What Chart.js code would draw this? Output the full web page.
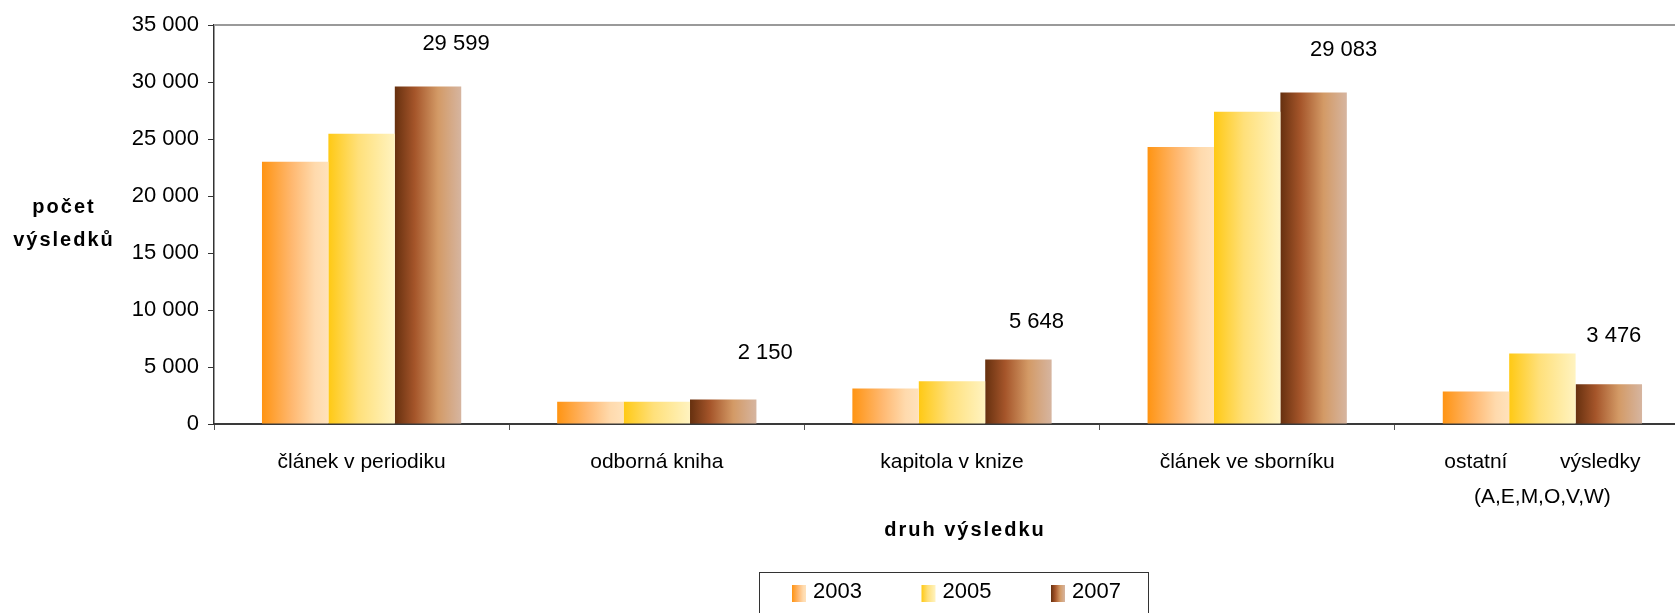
<!DOCTYPE html>
<html lang="cs">
<head>
<meta charset="utf-8">
<title>Počet výsledků podle druhu</title>
<script src="https://cdn.jsdelivr.net/npm/chart.js@4.4.1/dist/chart.umd.min.js"></script>
<style>
    html, body { margin: 0; padding: 0; background: #fff; overflow: hidden; }
    #wrap { width: 1690px; height: 613px; }
</style>
</head>
<body>
<div id="wrap"><canvas id="chart" width="1690" height="613"></canvas></div>
<script>
// Data
const categories = [
    'článek v periodiku',
    'odborná kniha',
    'kapitola v knize',
    'článek ve sborníku',
    ['ostatní         výsledky', '(A,E,M,O,V,W)']
];
const years = ['2003', '2005', '2007'];
const values2003 = [23000, 1950, 3110, 24300, 2860];
const values2005 = [25450, 1950, 3740, 27400, 6190];
const values2007 = [29599, 2150, 5648, 29083, 3476];
const yTicks = { min: 0, max: 35000, step: 5000 };

// Gradient stops per series (left -> right across each bar)
const seriesStops = [
    [[0, '#FF9412'], [0.45, '#FFB870'], [0.8, '#FFDAAD'], [1, '#FFE2BC']],
    [[0, '#FFC914'], [0.45, '#FFE07A'], [1, '#FFF3C0']],
    [[0, '#66300F'], [0.3, '#A5552A'], [0.65, '#D39A66'], [1, '#D6B5A0']]
];

const CAT_PCT = 0.675;
const FONT = '"Liberation Sans", Arial, sans-serif';

// Thousands with a space, like "29 599"
function fmt(n) {
    return String(n).replace(/\B(?=(\d{3})+(?!\d))/g, ' ');
}

function makeGradient(ctx2d, left, width, stops) {
    const g = ctx2d.createLinearGradient(left, 0, left + width, 0);
    stops.forEach(s => g.addColorStop(s[0], s[1]));
    return g;
}

// Scriptable fill: horizontal gradient across each bar
function barFill(seriesIndex) {
    return function (context) {
        const chart = context.chart;
        const x = chart.scales && chart.scales.x;
        const stops = seriesStops[seriesIndex];
        if (!x || context.dataIndex === undefined || !(x.width > 0)) return stops[0][1];
        const catW = x.width / categories.length;
        const groupW = catW * CAT_PCT;
        const barW = groupW / years.length;
        const center = x.getPixelForValue(context.dataIndex);
        const left = center - groupW / 2 + seriesIndex * barW;
        if (!isFinite(left) || !isFinite(barW)) return stops[0][1];
        return makeGradient(chart.ctx, left, barW, stops);
    };
}

// Value labels above the 2007 bars (nudged like in the original)
const labelNudge = [[28, -43], [42, -47], [18, -38], [30, -43], [5, -48]];

const decorPlugin = {
    id: 'decor',
    afterDatasetsDraw(chart) {
        const ctx = chart.ctx;
        const meta = chart.getDatasetMeta(2);
        ctx.save();
        ctx.font = '22px ' + FONT;
        ctx.fillStyle = '#000';
        ctx.textAlign = 'center';
        ctx.textBaseline = 'middle';
        meta.data.forEach((el, i) => {
            const n = labelNudge[i];
            ctx.fillText(fmt(values2007[i]), el.x + n[0], el.y + n[1]);
        });
        ctx.restore();
    },
    afterDraw(chart) {
        const ctx = chart.ctx;
        const area = chart.chartArea;
        ctx.save();

        // plot area top border
        ctx.strokeStyle = '#9a9a9a';
        ctx.lineWidth = 2;
        ctx.beginPath();
        ctx.moveTo(area.left, area.top);
        ctx.lineTo(area.right, area.top);
        ctx.stroke();

        // axis titles
        ctx.fillStyle = '#000';
        ctx.font = 'bold 20px ' + FONT;
        ctx.letterSpacing = '2px';
        ctx.textAlign = 'center';
        ctx.textBaseline = 'alphabetic';
        ctx.fillText('počet', 64, 213);
        ctx.fillText('výsledků', 64, 246);
        ctx.fillText('druh výsledku', 965, 536);
        ctx.letterSpacing = '0px';

        // legend
        ctx.strokeStyle = '#333';
        ctx.lineWidth = 1;
        ctx.strokeRect(759.5, 572.5, 389, 60);
        ctx.font = '22px ' + FONT;
        ctx.textAlign = 'left';
        ctx.textBaseline = 'middle';
        years.forEach((yr, i) => {
            const sx = 792 + i * 129.5;
            ctx.fillStyle = makeGradient(ctx, sx, 14, seriesStops[i]);
            ctx.fillRect(sx, 585, 14, 17);
            ctx.fillStyle = '#000';
            ctx.fillText(yr, sx + 21, 592);
        });
        ctx.restore();
    }
};

const seriesValues = [values2003, values2005, values2007];

new Chart(document.getElementById('chart'), {
    type: 'bar',
    data: {
        labels: categories,
        datasets: years.map((yr, i) => ({
            label: yr,
            data: seriesValues[i],
            backgroundColor: barFill(i),
            borderWidth: 0,
            categoryPercentage: CAT_PCT,
            barPercentage: 1
        }))
    },
    options: {
        responsive: false,
        animation: false,
        events: [],
        layout: { padding: { top: 25, right: 0, bottom: 0, left: 0 } },
        plugins: {
            legend: { display: false },
            tooltip: { enabled: false }
        },
        scales: {
            x: {
                afterFit(scale) { scale.height = 189; },
                border: { display: true, color: '#3a3a3a', width: 2 },
                grid: { display: true, drawOnChartArea: false, drawTicks: true, tickLength: 6, color: '#555', offset: true },
                ticks: {
                    color: '#000',
                    font: { family: FONT, size: 21, lineHeight: 1.7 },
                    padding: 14,
                    maxRotation: 0,
                    autoSkip: false
                }
            },
            y: {
                min: yTicks.min,
                max: yTicks.max,
                afterFit(scale) { scale.width = 214; },
                border: { display: true, color: '#333', width: 1.5 },
                grid: { display: true, drawOnChartArea: false, drawTicks: true, tickLength: 6, color: '#333' },
                ticks: {
                    stepSize: yTicks.step,
                    color: '#000',
                    font: { family: FONT, size: 22 },
                    padding: 9,
                    callback: v => fmt(v)
                }
            }
        }
    },
    plugins: [decorPlugin]
});
</script>
</body>
</html>
